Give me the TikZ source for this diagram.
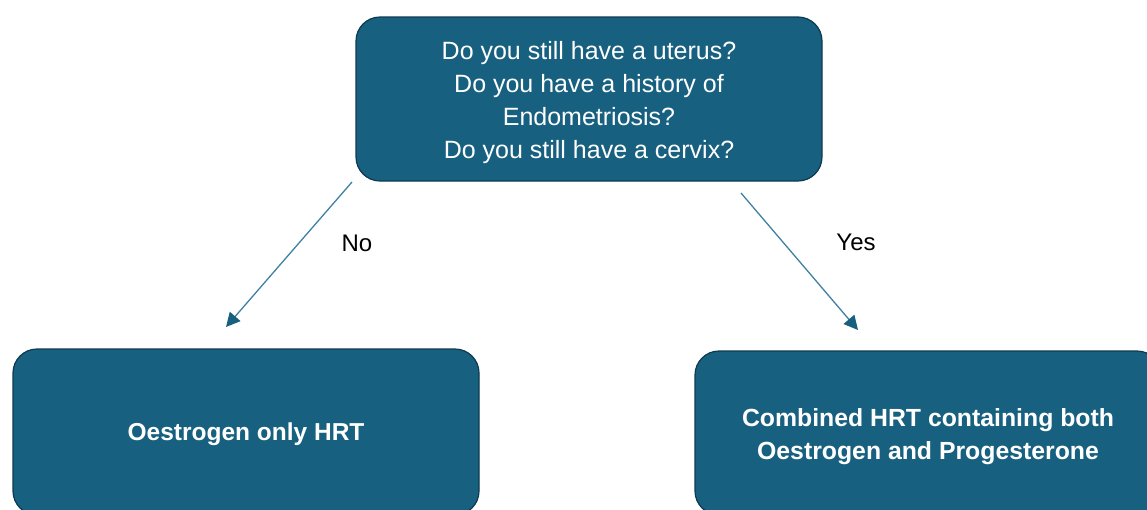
\documentclass[tikz,border=0pt]{standalone}
\usepackage{fontspec}
\setmainfont{Liberation Sans}
\usetikzlibrary{arrows.meta}
\definecolor{boxfill}{HTML}{17607F}
\definecolor{boxline}{HTML}{0E3A50}
\definecolor{arrline}{HTML}{3F81A2}
\tikzset{
  box/.style={draw=boxline, line width=1.2pt, fill=boxfill, rounded corners=24pt,
    text=white, align=center, inner sep=0pt},
  boxtext/.style={text=white, align=center, inner sep=0pt},
  conn/.style={draw=arrline, line width=1.3pt, -{Triangle[length=14pt,width=14pt,color=boxfill,fill=boxfill]}},
  lab/.style={font=\fontsize{24}{28}\selectfont, text=black, inner sep=0pt}
}
\begin{document}
\begin{tikzpicture}[x=1pt,y=-1pt]
\useasboundingbox (0,0) rectangle (1147,509);
\clip (0,0) rectangle (1147,509);
\node[box, minimum width=466pt, minimum height=164pt] (q) at (589,99) {};
\node[boxtext, font=\fontsize{25}{33}\selectfont] (qt) at (589,103)
  {Do you still have a uterus?\\Do you have a history of\\Endometriosis?\\Do you still have a cervix?};
\node[box, minimum width=466pt, minimum height=166pt] (oe) at (246,432) {};
\node[boxtext, font=\bfseries\fontsize{24.5}{33}\selectfont] (oet) at (246,434) {Oestrogen only HRT};
\node[box, minimum width=466pt, minimum height=164pt] (co) at (928,433) {};
\node[boxtext, font=\bfseries\fontsize{24.8}{33}\selectfont] (cot) at (928,437)
  {Combined HRT containing both\\Oestrogen and Progesterone};
\coordinate (ns) at (352,182);
\coordinate (ne) at (226,327);
\coordinate (ys) at (741,193);
\coordinate (ye) at (858,330);
\draw[conn] (ns) -- (ne);
\draw[conn] (ys) -- (ye);
\node[lab] (no) at (357,243) {No};
\node[lab] (yes) at (856,242) {Yes};
\end{tikzpicture}
\end{document}
